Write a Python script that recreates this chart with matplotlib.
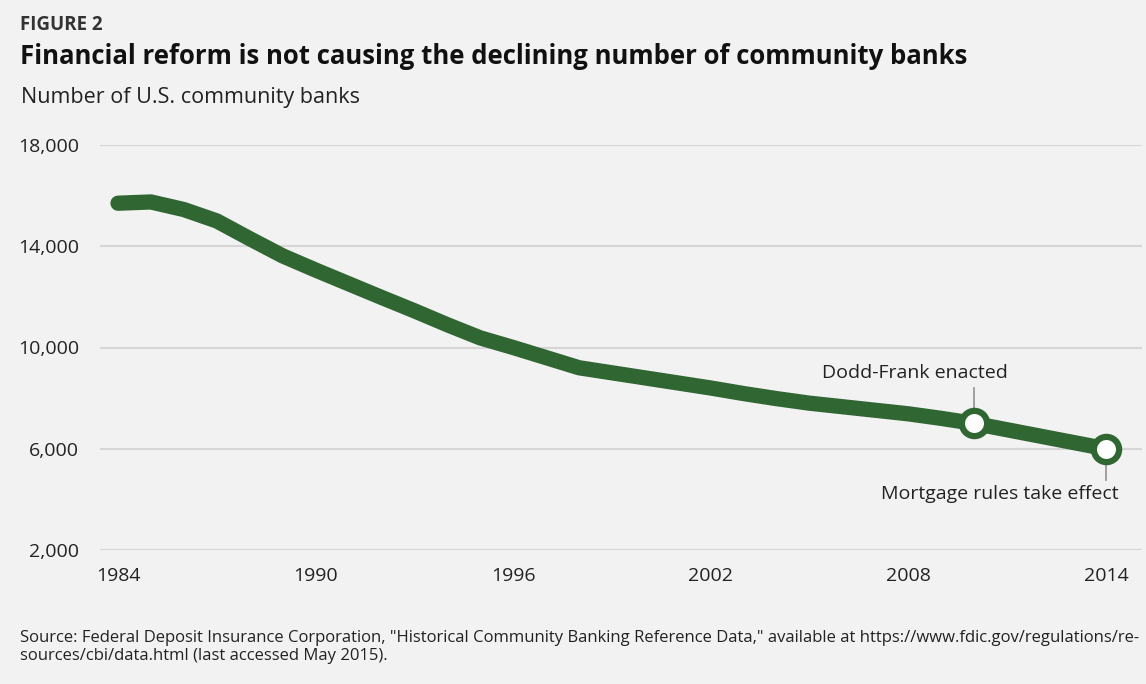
import matplotlib
matplotlib.use("Agg")
import matplotlib.pyplot as plt

# ---- data ----
years = [1984, 1985, 1986, 1987, 1988, 1989, 1990, 1991, 1992, 1993, 1994,
         1995, 1996, 1997, 1998, 1999, 2000, 2001, 2002, 2003, 2004, 2005,
         2006, 2007, 2008, 2009, 2010, 2011, 2012, 2013, 2014]
banks = [15700, 15750, 15450, 15000, 14300, 13620, 13060, 12520, 11980, 11450,
         10900, 10380, 10000, 9600, 9200, 9000, 8800, 8600, 8400, 8180, 7980,
         7800, 7660, 7520, 7380, 7200, 7000, 6750, 6500, 6250, 6000]
event_years = [2010, 2014]
event_values = [7000, 6000]
event_labels = ["Dodd-Frank enacted", "Mortgage rules take effect"]
x_ticks = [1984, 1990, 1996, 2002, 2008, 2014]
y_ticks = [2000, 6000, 10000, 14000, 18000]

W, H = 1146, 684
BG = "#f2f2f2"
GREEN = "#2f6631"
FONT = "Open Sans"
TXT = "#222222"

fig = plt.figure(figsize=(W / 100, H / 100), dpi=100)
fig.patch.set_facecolor(BG)

def fx(x):
    return x / W

def fy(y):
    return 1 - y / H

ax_left, ax_right, ax_top, ax_bottom = 100, 1142, 145, 550
ax = fig.add_axes([fx(ax_left), fy(ax_bottom), (ax_right - ax_left) / W, (ax_bottom - ax_top) / H])
ax.set_facecolor(BG)

px_per_year = 32.93
x0 = 118
xmin = 1984 - (x0 - ax_left) / px_per_year
xmax = 1984 + (ax_right - x0) / px_per_year
ax.set_xlim(xmin, xmax)
ax.set_ylim(2000, 18000)

for s in ax.spines.values():
    s.set_visible(False)
ax.set_yticks(y_ticks)
ax.set_yticklabels([f"{v:,}" for v in y_ticks], fontfamily=FONT, fontsize=14, color=TXT)
ax.set_xticks(x_ticks)
ax.set_xticklabels([str(v) for v in x_ticks], fontfamily=FONT, fontsize=14, color=TXT)
ax.tick_params(axis="both", length=0)
ax.tick_params(axis="y", pad=15)
ax.tick_params(axis="x", pad=12)
ax.grid(axis="y", color="#d6d6d6", linewidth=1.5)
ax.set_axisbelow(True)

ax.plot(years, banks, color=GREEN, linewidth=11, solid_capstyle="round",
        solid_joinstyle="round", clip_on=False, zorder=3)

# leader lines
ax.plot([event_years[0], event_years[0]], [event_values[0] + 400, 8400],
        color="#999999", linewidth=1.3, zorder=2, clip_on=False)
ax.plot([event_years[1], event_years[1]], [event_values[1] - 400, 4760],
        color="#999999", linewidth=1.3, zorder=2, clip_on=False)

ax.scatter(event_years, event_values, s=330, facecolor="white", edgecolor=GREEN,
           linewidth=4.5, zorder=4, clip_on=False)

ax.annotate(event_labels[0], xy=(event_years[0], event_values[0]), xytext=(-59, 50),
            textcoords="offset pixels", ha="center", va="center",
            fontfamily=FONT, fontsize=14, color=TXT)
ax.annotate(event_labels[1], xy=(event_years[1], event_values[1]), xytext=(-106, -45),
            textcoords="offset pixels", ha="center", va="center",
            fontfamily=FONT, fontsize=14, color=TXT)

fig.text(fx(20), fy(25), "FIGURE 2", fontfamily=FONT, fontweight="bold",
         fontsize=13.5, color="#333333", va="center", ha="left")
fig.text(fx(20), fy(57), "Financial reform is not causing the declining number of community banks",
         fontfamily=FONT, fontweight="bold", fontsize=18.5, color="#111111", va="center", ha="left")
fig.text(fx(21), fy(97), "Number of U.S. community banks", fontfamily=FONT,
         fontsize=15.5, color=TXT, va="center", ha="left")
fig.text(fx(20), fy(647),
         "Source: Federal Deposit Insurance Corporation, \"Historical Community Banking Reference Data,\" "
         "available at https://www.fdic.gov/regulations/re-\nsources/cbi/data.html (last accessed May 2015).",
         fontfamily=FONT, fontsize=12, color=TXT, va="center", ha="left", linespacing=1.2)

fig.savefig("out.png", dpi=100, facecolor=BG)
